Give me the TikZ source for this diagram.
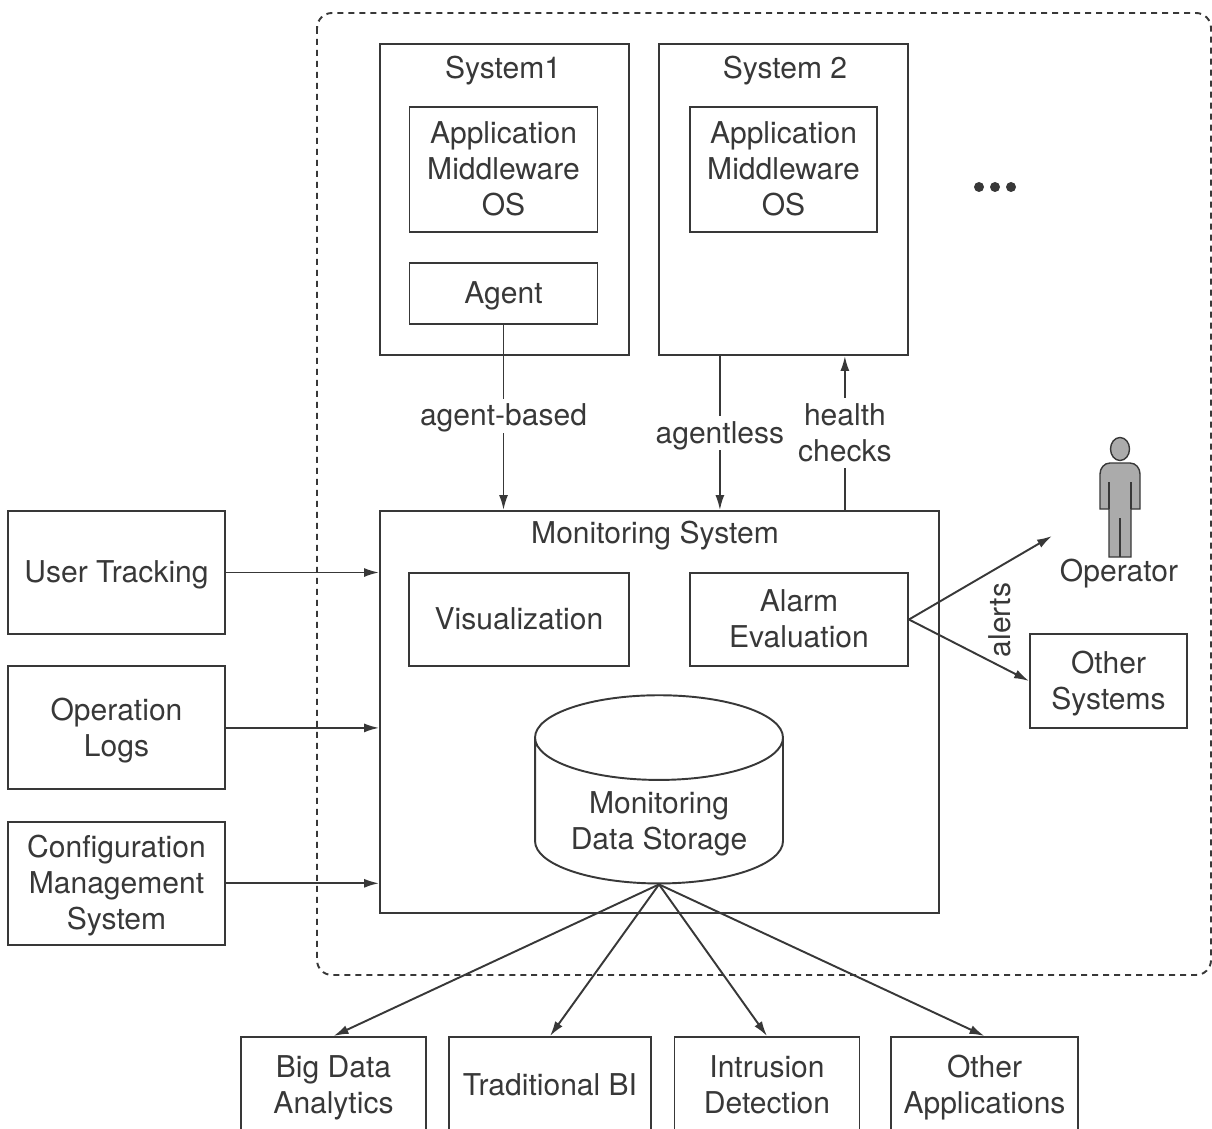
\documentclass[tikz,border=0pt]{standalone}
\usepackage{fontspec}
\setmainfont{TeX Gyre Heros}
\usetikzlibrary{arrows.meta,positioning,shapes.geometric}
\definecolor{ink}{gray}{0.22}

\begin{document}
\begin{tikzpicture}[
    x=0.02cm, y=-0.02cm,
    box/.style={rectangle, draw=ink, text=ink, line width=1.1pt, inner sep=0pt, align=center, text depth=1pt, font=\fontsize{17.1}{20.5}\selectfont},
    plain/.style={text=ink, inner sep=0pt, align=center, text depth=1pt, font=\fontsize{17.1}{20.5}\selectfont},
    lbl/.style={plain, fill=white, inner sep=3pt},
    feedbox/.style={box, minimum width=4.34cm, minimum height=2.46cm},
    outbox/.style={box, minimum height=1.92cm},
    stack/.style={box, minimum width=3.76cm, minimum height=2.5cm},
    line/.style={draw=ink, -{Latex[length=0.3cm,width=0.18cm]}, line width=1.1pt},
    node distance=0.61cm
]
\path[use as bounding box, clip] (0,0) rectangle (1212,1128);

% Boundary
\draw[draw=ink, line width=1.1pt, rounded corners=0.3cm, dash pattern=on 0.12cm off 0.1cm] (317,13) rectangle (1211,975);

% Systems
\node[box, minimum width=4.98cm, minimum height=6.22cm] (system1) at (504.5,199.5) {};
\node[box, minimum width=4.98cm, minimum height=6.22cm, right=0.56cm of system1] (system2) {};
\node[plain] (system1title) at (503,68) {System1};
\node[plain] (system2title) at (785,68) {System 2};
\node[stack] (stack1) at (503.5,169.5) {Application\\Middleware\\OS};
\node[stack, minimum width=3.74cm] (stack2) at (783.5,169.5) {Application\\Middleware\\OS};
\node[box, minimum width=3.76cm, minimum height=1.22cm, below=0.58cm of stack1] (agent) {Agent};
\foreach \i/\x in {1/979, 2/995, 3/1011}
    \node[circle, fill=ink, inner sep=0pt, minimum size=0.2cm] (dot\i) at (\x,187) {};

% Monitoring system
\node[box, minimum width=11.18cm, minimum height=8.04cm] (monitoring) at (659.5,712) {};
\node[plain] (monitoringtitle) at (655,533) {Monitoring System};
\node[box, minimum width=4.4cm, minimum height=1.86cm] (visualization) at (519,619.5) {Visualization};
\node[box, minimum width=4.36cm, minimum height=1.86cm] (alarm) at (799,619.5) {Alarm\\Evaluation};
\node[box, cylinder, shape border rotate=90, shape aspect=0.48, minimum width=4.96cm, minimum height=3.72cm] (storage) at (659,811) {\phantom{Data Storage}\\\phantom{Data Storage}};
\node[plain] (storagetext) at (659,821.5) {Monitoring\\Data Storage};

% Inputs
\node[feedbox] (tracking) at (116.5,572.5) {User Tracking};
\node[feedbox, below=of tracking] (logs) {Operation\\Logs};
\node[feedbox, below=of logs] (config) {Configuration\\Management\\System};

% Operator
\draw[draw=ink, fill=black!33, line width=0.8pt] (1120,449) ellipse (9.5 and 11.5);
\draw[draw=ink, fill=black!33, line width=0.8pt]
    (1100,474) -- (1100,509) -- (1109,509) -- (1109,557) -- (1131,557) -- (1131,509) -- (1140,509) -- (1140,474) to[out=90, in=0] (1130,463) -- (1110,463) to[out=180, in=90] cycle;
\draw[draw=ink, line width=0.8pt] (1109,482) -- (1109,509) (1131,482) -- (1131,509);
\draw[draw=ink, line width=1.6pt] (1120,518) -- (1120,557);
\node[plain] (operator) at (1119,571) {Operator};
\coordinate (operatorin) at (1052,536);
\node[box, minimum width=3.14cm, minimum height=1.88cm] (othersystems) at (1108.5,681) {Other\\Systems};

% Outputs
\node[outbox, minimum width=3.7cm] (bigdata) at (333.5,1085) {Big Data\\Analytics};
\node[outbox, minimum width=4.04cm] (tradbi) at (550,1085) {Traditional BI};
\node[outbox, minimum width=3.7cm] (intrusion) at (767,1085) {Intrusion\\Detection};
\node[outbox, minimum width=3.74cm] (otherapps) at (984.5,1085) {Other\\Applications};

% Connect nodes
\draw[line] (agent.south) -- node[lbl, pos=0.49] {agent-based} (agent.south |- monitoring.north);
\draw[line] ([xshift=-1.27cm]system2.south) -- node[lbl] {agentless} ([xshift=-1.27cm]system2.south |- monitoring.north);
\draw[line] ([xshift=1.23cm]system2.south |- monitoring.north) -- node[lbl, pos=0.5] {health\\checks} ([xshift=1.23cm]system2.south);
\draw[line] (tracking.east) -- (tracking.east -| monitoring.west);
\draw[line] (logs.east) -- (logs.east -| monitoring.west);
\draw[line] (config.east) -- (config.east -| monitoring.west);
\draw[line] (alarm.east) -- (operatorin);
\draw[line] (alarm.east) -- (othersystems.west);
\node[plain, rotate=90] (alerts) at (1000,620) {alerts};
\draw[line] (storage.south) -- (bigdata.north);
\draw[line] (storage.south) -- (tradbi.north);
\draw[line] (storage.south) -- (intrusion.north);
\draw[line] (storage.south) -- (otherapps.north);

\end{tikzpicture}
\end{document}
